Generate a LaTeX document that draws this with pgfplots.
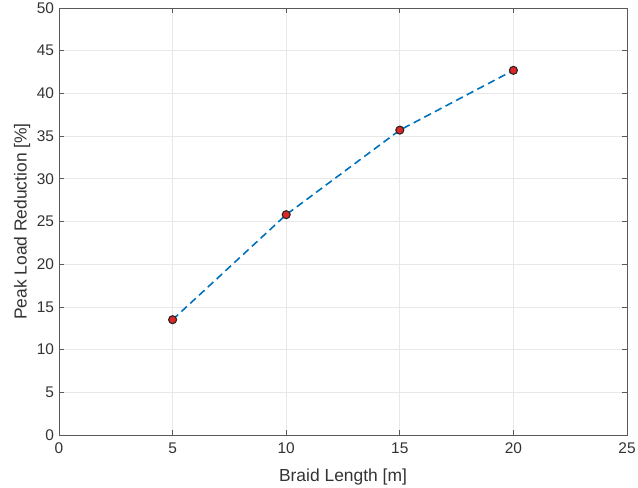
\documentclass[border=0pt]{standalone}
\usepackage{pgfplots}
\pgfplotsset{compat=1.18}
\usetikzlibrary{calc}
\usepackage{fontspec}
\setmainfont{Liberation Sans}
\definecolor{mblue}{rgb}{0,0.447,0.741}
\definecolor{axgray}{rgb}{0.35,0.35,0.35}
\definecolor{tickgray}{rgb}{0.2,0.2,0.2}
\definecolor{mred}{rgb}{0.87,0.15,0.15}
\begin{document}
\begin{tikzpicture}
\begin{axis}[
  scale only axis,
  width=568bp, height=427bp,
  xmin=0, xmax=25, ymin=0, ymax=50,
  xtick={0,5,...,25}, ytick={0,5,...,50},
  grid=major,
  major grid style={draw=black!9, line width=0.7pt},
  axis line style={draw=axgray, line width=0.7pt},
  tick style={draw=axgray, line width=0.7pt},
  tick align=inside,
  major tick length=5bp,
  every tick label/.append style={font=\fontsize{15.5}{17}\selectfont, text=tickgray},
  /pgf/number format/assume math mode=true,
  xticklabel style={yshift=-4bp},
  yticklabel style={xshift=-1.5bp},
  xlabel={Braid Length [m]},
  ylabel={Peak Load Reduction [\%]},
  label style={font=\fontsize{17.5}{19}\selectfont, text=tickgray},
  xlabel style={at={(axis description cs:0.5,-0.110)}, anchor=base},
  ylabel style={at={(axis description cs:-0.0572,0.5)}, anchor=base, rotate=0},
]
\addplot[color=mblue, line width=1.6pt, dash pattern=on 7.5bp off 4.5bp] coordinates {
  (5,13.5) (10,25.8) (15,35.7) (20,42.7)
};
\addplot[only marks, mark=*, mark size=4bp, mark options={fill=mred, draw=black!85, line width=1.1pt}] coordinates {
  (5,13.5) (10,25.8) (15,35.7) (20,42.7)
};
\end{axis}
\pgfresetboundingbox
\path[use as bounding box] ($(current axis.south west)+(-59bp,-53bp)$) rectangle ($(current axis.north east)+(11bp,8bp)$);
\end{tikzpicture}
\end{document}
